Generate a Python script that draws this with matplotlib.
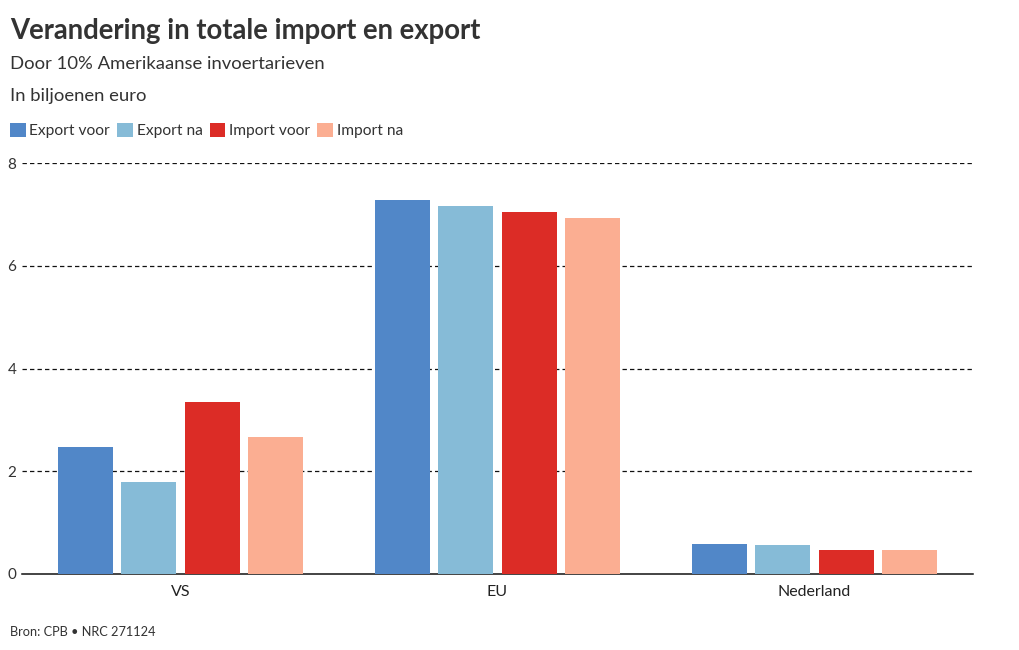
import matplotlib
matplotlib.use("Agg")
import matplotlib.pyplot as plt
import numpy as np

plt.rcParams['font.family'] = ['Lato', 'DejaVu Sans']

# data
landen = ['VS', 'EU', 'Nederland']
series = ['Export voor', 'Export na', 'Import voor', 'Import na']
export_voor = [2.47, 7.28, 0.58]
export_na = [1.79, 7.16, 0.56]
import_voor = [3.35, 7.04, 0.47]
import_na = [2.67, 6.93, 0.46]
kleuren = ['#5187c8', '#86bbd7', '#dc2c26', '#fbae92']
yticks = [0, 2, 4, 6, 8]

fig = plt.figure(figsize=(10.2, 6.5), dpi=100)
ax = fig.add_axes([0.0216, 0.117, 0.9324, 0.632])

x = np.arange(len(landen))
breedte = 0.174
offsets = [-0.3, -0.1, 0.1, 0.3]
for vals, off, kleur, naam in zip([export_voor, export_na, import_voor, import_na],
                                  offsets, kleuren, series):
    ax.bar(x + off, vals, width=breedte, color=kleur, label=naam, zorder=3)

ax.set_xlim(-0.5, 2.5)
ax.set_ylim(0, 8)
ax.set_yticks(yticks)
ax.set_xticks(x)
ax.set_xticklabels(landen, fontsize=11.5, color='#222222')
ax.tick_params(axis='y', length=0, pad=4, labelsize=11, labelcolor='#333333')
ax.tick_params(axis='x', length=0, pad=8)
for t in yticks[1:]:
    ax.axhline(t, color='#111111', lw=0.9, ls=(0, (3.5, 2.5)), zorder=1)
for s in ['top', 'right', 'left']:
    ax.spines[s].set_visible(False)
ax.spines['bottom'].set_color('#111111')
ax.spines['bottom'].set_linewidth(1.1)

fig.text(0.0098, 0.952, 'Verandering in totale import en export', fontsize=19.8,
         fontweight='bold', color='#333333', va='center', ha='left')
fig.text(0.0098, 0.902, 'Door 10% Amerikaanse invoertarieven', fontsize=13.3,
         color='#333333', va='center', ha='left')
fig.text(0.0098, 0.853, 'In biljoenen euro', fontsize=13.3,
         color='#333333', va='center', ha='left')
fig.text(0.0098, 0.028, 'Bron: CPB \u2022 NRC 271124', fontsize=9.2,
         color='#333333', va='center', ha='left')

leg = fig.legend(loc='center left', bbox_to_anchor=(0.0098, 0.799), ncol=4,
                 frameon=False, fontsize=11.2, handlelength=1.0, handleheight=1.0,
                 handletextpad=0.25, columnspacing=0.45, borderaxespad=0,
                 borderpad=0)
for t in leg.get_texts():
    t.set_color('#333333')

fig.savefig('out.png', dpi=100)
